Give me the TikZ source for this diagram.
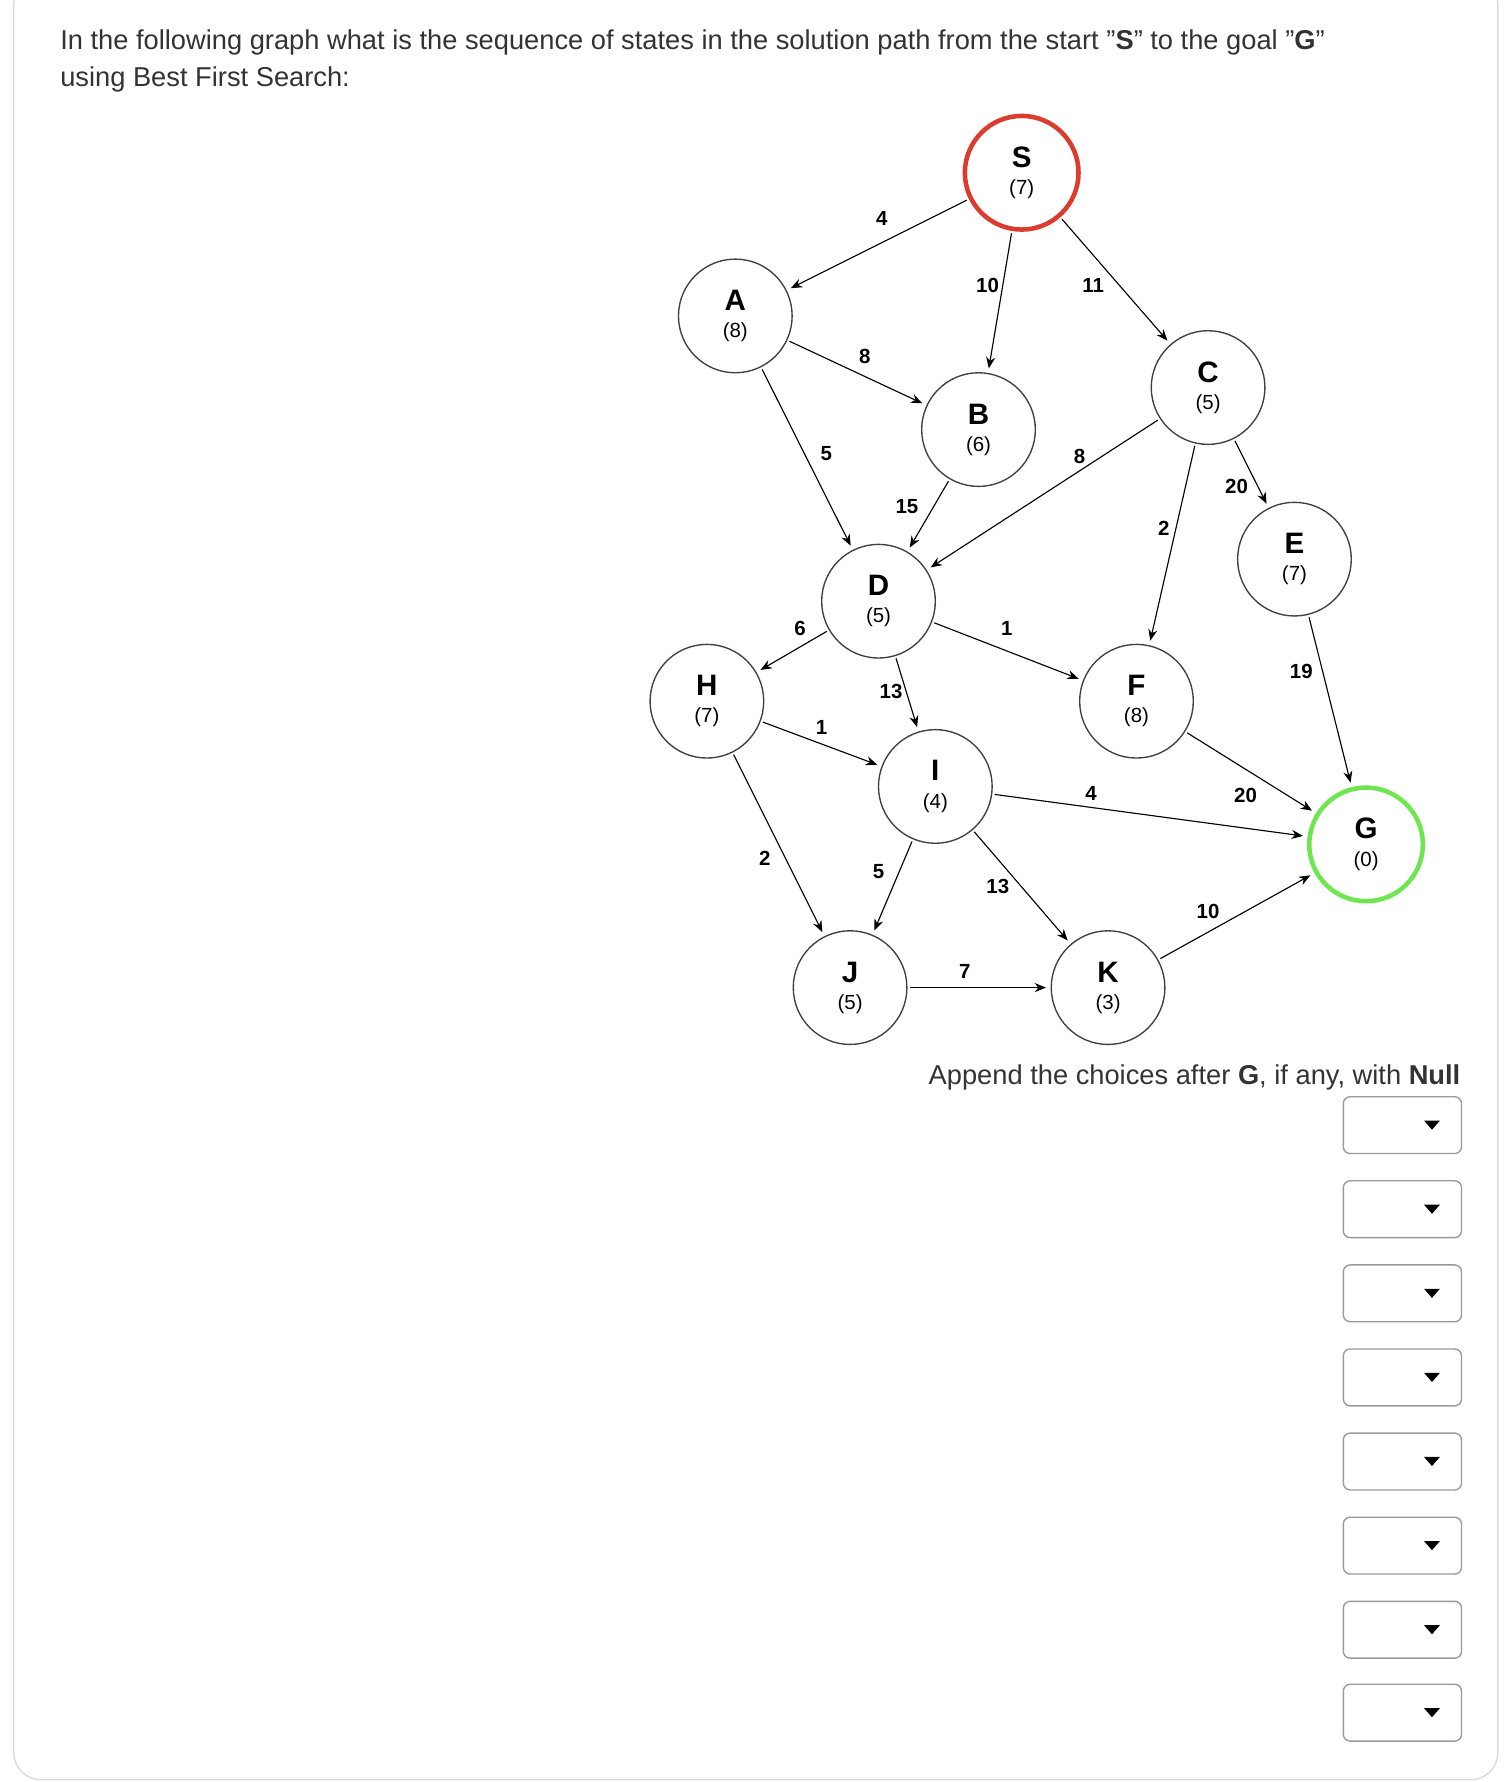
\documentclass[tikz,border=0pt]{standalone}
\usepackage{fontspec}
\setmainfont{Liberation Sans}
\usetikzlibrary{arrows.meta}
\definecolor{txt}{HTML}{333333}
\begin{document}
\begin{tikzpicture}[x=0.5pt,y=-0.5pt,
 st/.style={circle,draw=black!75,line width=0.6pt,minimum size=50pt,inner sep=0pt,align=center,font=\fontsize{9}{11}\selectfont},
 ed/.style={-{Stealth[length=5pt,width=4pt]},line width=0.5pt,shorten >=2pt,shorten <=1pt},
 lb/.style={font=\bfseries\fontsize{9}{10}\selectfont},
 dd/.style={draw=black!40,rounded corners=3pt,line width=0.6pt}]
\useasboundingbox (0,0) rectangle (1330,1568);
\draw[black!15,rounded corners=12pt,line width=0.6pt] (12,-20) rectangle (1318,1566);
\node[anchor=west,text=txt,font=\fontsize{12}{14}\selectfont] (t1) at (46,37) {In the following graph what is the sequence of states in the solution path from the start "\textbf{S}" to the goal "\textbf{G}"};
\node[anchor=west,text=txt,font=\fontsize{12}{14}\selectfont] (t2) at (46,70) {using Best First Search:};
\def\nd#1#2#3{{\fontsize{13}{14}\selectfont\bfseries #2}\\[1pt](#3)}
\node[st,draw=red!80!black,line width=2pt,draw={rgb,255:red,220;green,60;blue,45}] (S) at (899,152) {\nd{}{S}{7}};
\node[st] (A) at (647,278) {\nd{}{A}{8}};
\node[st] (B) at (861,378) {\nd{}{B}{6}};
\node[st] (C) at (1063,341) {\nd{}{C}{5}};
\node[st] (E) at (1139,492) {\nd{}{E}{7}};
\node[st] (D) at (773,529) {\nd{}{D}{5}};
\node[st] (H) at (622,617) {\nd{}{H}{7}};
\node[st] (F) at (1000,617) {\nd{}{F}{8}};
\node[st] (I) at (823,692) {\nd{}{I}{4}};
\node[st,line width=2pt,draw={rgb,255:red,110;green,230;blue,80}] (G) at (1202,743) {\nd{}{G}{0}};
\node[st] (J) at (748,869) {\nd{}{J}{5}};
\node[st] (K) at (975,869) {\nd{}{K}{3}};
\draw[ed] (S)--(A); \node[lb] (l1) at (776,192) {4};
\draw[ed] (S)--(B); \node[lb] (l2) at (869,251) {10};
\draw[ed] (S)--(C); \node[lb] (l3) at (962,251) {11};
\draw[ed] (A)--(B); \node[lb] (l4) at (761,314) {8};
\draw[ed] (A)--(D); \node[lb] (l5) at (727,399) {5};
\draw[ed] (B)--(D); \node[lb] (l6) at (798,446) {15};
\draw[ed] (C)--(D); \node[lb] (l7) at (950,402) {8};
\draw[ed] (C)--(F); \node[lb] (l8) at (1024,465) {2};
\draw[ed] (C)--(E); \node[lb] (l9) at (1088,428) {20};
\draw[ed] (D)--(H); \node[lb] (l10) at (704,553) {6};
\draw[ed] (D)--(F); \node[lb] (l11) at (886,553) {1};
\draw[ed] (D)--(I); \node[lb] (l12) at (784,608) {13};
\draw[ed] (H)--(I); \node[lb] (l13) at (723,640) {1};
\draw[ed] (H)--(J); \node[lb] (l14) at (673,755) {2};
\draw[ed] (I)--(J); \node[lb] (l15) at (773,767) {5};
\draw[ed] (I)--(G); \node[lb] (l16) at (960,698) {4};
\draw[ed] (I)--(K); \node[lb] (l17) at (878,780) {13};
\draw[ed] (F)--(G); \node[lb] (l18) at (1096,700) {20};
\draw[ed] (E)--(G); \node[lb] (l19) at (1145,591) {19};
\draw[ed] (J)--(K); \node[lb] (l20) at (849,855) {7};
\draw[ed] (K)--(G); \node[lb] (l21) at (1063,802) {10};
\node[anchor=east,text=txt,font=\fontsize{12}{14}\selectfont] (ap) at (1292,948) {Append the choices after \textbf{G}, if any, with \textbf{Null}};
\foreach \y in {990,1064,1138,1212,1286,1360,1434,1507}{
 \draw[dd] (1182,\y-25) rectangle (1286,\y+25);
 \fill (1253,\y-4) -- (1267,\y-4) -- (1260,\y+4) -- cycle;
}
\end{tikzpicture}
\end{document}
